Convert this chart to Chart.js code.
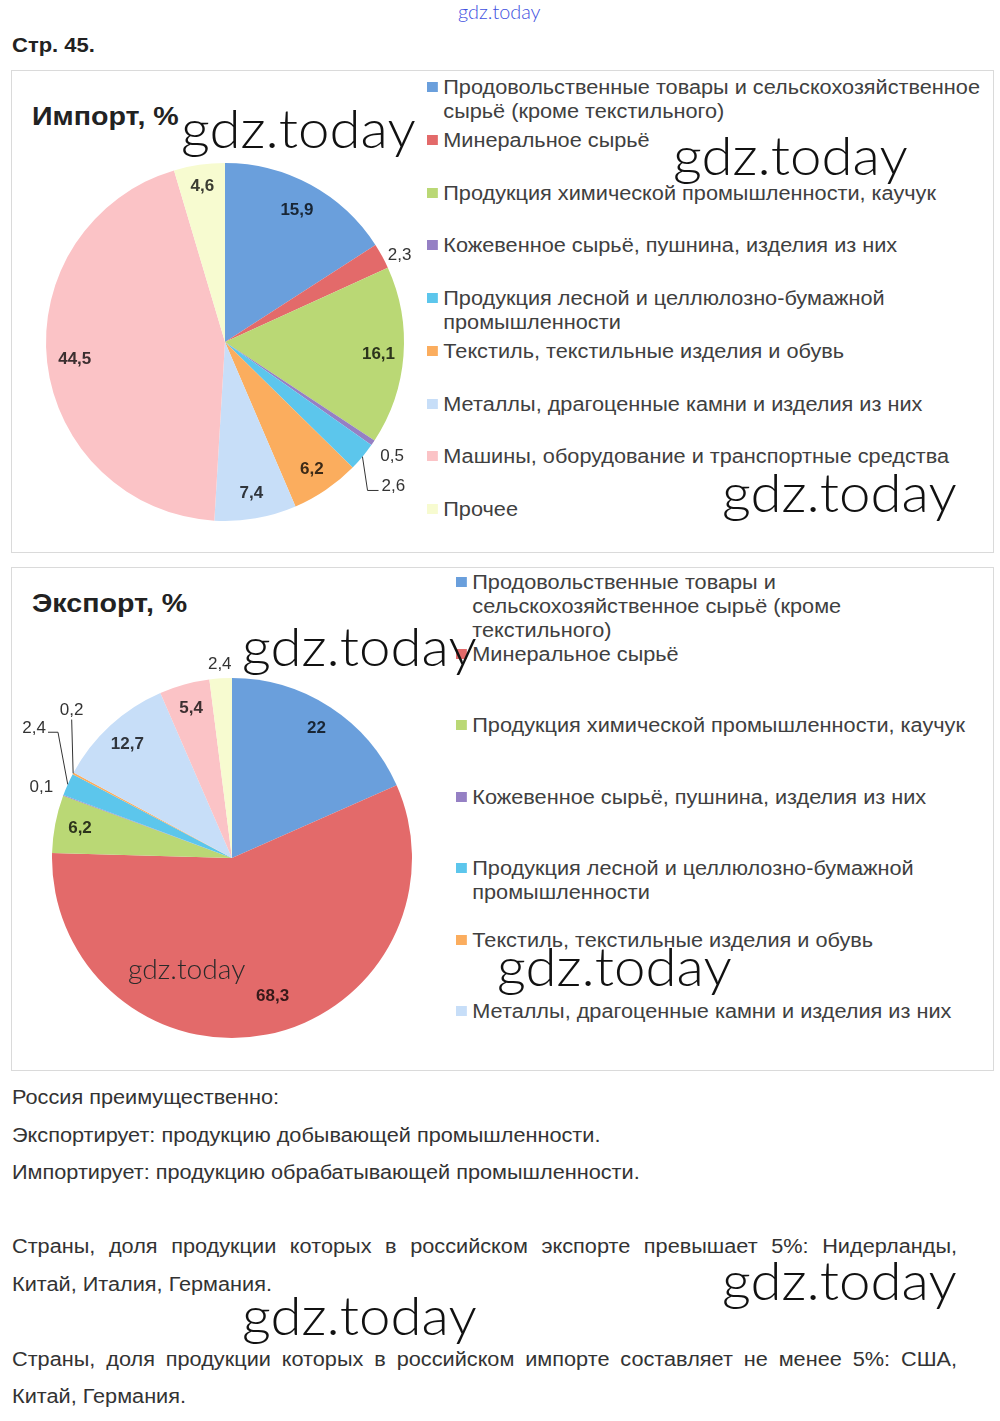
<!DOCTYPE html>
<html lang="ru">
<head>
<meta charset="utf-8">
<title>Импорт и экспорт</title>
<script src="https://cdn.jsdelivr.net/npm/chart.js@4.4.1/dist/chart.umd.min.js"></script>
<style>
  body { margin: 0; background: #fff; font-family: "Liberation Sans", Arial, sans-serif; }
  #page { position: relative; width: 1000px; height: 1421px; overflow: hidden; }
  .abs { position: absolute; }
  .wide { transform-origin: 0 50%; transform: scaleX(1.085); }
  .box { position: absolute; left: 11px; width: 981px; border: 1px solid #dadada; }
  .title { position: absolute; font-weight: bold; font-size: 26px; color: #222; line-height: 30px; transform-origin: 0 50%; transform: scaleX(1.1); }
  canvas { position: absolute; }
  .legend-item { position: absolute; font-size: 20px; line-height: 24px; color: #404040; }
  .legend-item .sw { position: absolute; left: 0; top: 7px; width: 10px; height: 10px; }
  .legend-item .tx { margin-left: 15px; }
  .txt { position: absolute; left: 12px; font-size: 20px; line-height: 24px; color: #333; white-space: nowrap; }
  .just { width: 871px; text-align: justify; text-align-last: justify; white-space: normal; }
  .wm { position: absolute; font-family: Lato, "DejaVu Sans", sans-serif; font-weight: 300; color: #111; line-height: 1; white-space: nowrap; transform-origin: 0 50%; transform: scaleX(1.045); }
</style>
</head>
<body>
<div id="page">
  <div class="wm" style="left:458px;top:2px;font-size:19px;color:#4050e0;">gdz.today</div>
  <div class="abs" style="left:12px;top:34px;font-size:20px;font-weight:bold;color:#222;transform-origin:0 50%;transform:scaleX(1.1);">Стр. 45.</div>

  <div class="box" style="top:70px;height:481px;"></div>
  <div class="title" style="left:32px;top:101px;">Импорт, %</div>
  <canvas id="importChart" width="400" height="385" style="left:20px;top:150px;"></canvas>
  <div id="importLegend"></div>

  <div class="box" style="top:567px;height:502px;"></div>
  <div class="title" style="left:32px;top:588px;">Экспорт, %</div>
  <canvas id="exportChart" width="425" height="400" style="left:15px;top:650px;"></canvas>
  <div id="exportLegend"></div>

  <div class="txt wide" style="top:1085px;">Россия преимущественно:</div>
  <div class="txt wide" style="top:1123px;">Экспортирует: продукцию добывающей промышленности.</div>
  <div class="txt wide" style="top:1160px;">Импортирует: продукцию обрабатывающей промышленности.</div>
  <div class="txt wide just" style="top:1234px;">Страны, доля продукции которых в российском экспорте превышает 5%: Нидерланды,</div>
  <div class="txt wide" style="top:1272px;">Китай, Италия, Германия.</div>
  <div class="txt wide just" style="top:1347px;">Страны, доля продукции которых в российском импорте составляет не менее 5%: США,</div>
  <div class="txt wide" style="top:1384px;">Китай, Германия.</div>

  <div class="wm" style="left:181px;top:101px;font-size:54px;">gdz.today</div>
  <div class="wm" style="left:673px;top:128px;font-size:54px;">gdz.today</div>
  <div class="wm" style="left:722px;top:465px;font-size:54px;">gdz.today</div>
  <div class="wm" style="left:242px;top:619px;font-size:54px;">gdz.today</div>
  <div class="wm" style="left:128px;top:955px;font-size:27px;color:#2a2a2a;">gdz.today</div>
  <div class="wm" style="left:497px;top:939px;font-size:54px;">gdz.today</div>
  <div class="wm" style="left:722px;top:1253px;font-size:54px;">gdz.today</div>
  <div class="wm" style="left:242px;top:1288px;font-size:54px;">gdz.today</div>
</div>

<script>
// Categories (same order for both charts)
const categories = [
  'Продовольственные товары и сельскохозяйственное сырьё (кроме текстильного)',
  'Минеральное сырьё',
  'Продукция химической промышленности, каучук',
  'Кожевенное сырьё, пушнина, изделия из них',
  'Продукция лесной и целлюлозно-бумажной промышленности',
  'Текстиль, текстильные изделия и обувь',
  'Металлы, драгоценные камни и изделия из них',
  'Машины, оборудование и транспортные средства',
  'Прочее'
];

// Values, %
const importValues = [15.9, 2.3, 16.1, 0.5, 2.6, 6.2, 7.4, 44.5, 4.6];
const exportValues = [22, 68.3, 6.2, 0.1, 2.4, 0.2, 12.7, 5.4, 2.4];

const sliceColors = ['#6a9fdc', '#e36a6a', '#bad875', '#9580c4', '#5cc6ec', '#fbad5e', '#c7def8', '#fbc3c6', '#f7fbd0'];

function fmt(v) {
  return String(v).replace('.', ',');
}

function darken(hex, k) {
  const n = parseInt(hex.slice(1), 16);
  const r = Math.round(((n >> 16) & 255) * k);
  const g = Math.round(((n >> 8) & 255) * k);
  const b = Math.round((n & 255) * k);
  return `rgb(${r},${g},${b})`;
}

// Draws the value labels on / next to the slices
const sliceLabels = {
  id: 'sliceLabels',
  afterDatasetsDraw(chart, args, opts) {
    const ctx = chart.ctx;
    const meta = chart.getDatasetMeta(0);
    const values = chart.data.datasets[0].data;
    const colors = chart.data.datasets[0].backgroundColor;
    meta.data.forEach((arc, i) => {
      const p = arc.getProps(['x', 'y', 'startAngle', 'endAngle', 'outerRadius'], true);
      const mid = (p.startAngle + p.endAngle) / 2;
      const spec = opts.special[i] || {};
      const text = fmt(values[i]);
      const ang = spec.angle !== undefined ? (spec.angle - 90) * Math.PI / 180 : mid;
      const d = p.outerRadius * (spec.dist || opts.inside);
      const x = p.x + Math.cos(ang) * d;
      const y = p.y + Math.sin(ang) * d;
      const outside = (spec.dist || 0) > 1;
      ctx.save();
      ctx.textBaseline = 'middle';
      if (!outside) {
        ctx.font = 'bold 17px "Liberation Sans", Arial, sans-serif';
        ctx.fillStyle = darken(colors[i], 0.24);
        ctx.textAlign = 'center';
        ctx.fillText(text, x, y);
      } else {
        ctx.font = '17px "Liberation Sans", Arial, sans-serif';
        ctx.fillStyle = '#333';
        ctx.textAlign = spec.align || 'center';
        ctx.fillText(text, x, y);
        if (spec.leader) {
          const ex = p.x + Math.cos(mid) * p.outerRadius;
          const ey = p.y + Math.sin(mid) * p.outerRadius;
          ctx.strokeStyle = '#333';
          ctx.lineWidth = 1;
          ctx.beginPath();
          if (spec.leader === 'left') {
            ctx.moveTo(ex, ey);
            ctx.lineTo(x - 14, y + 4);
            ctx.lineTo(x - 3, y + 4);
          } else if (spec.leader === 'right') {
            ctx.moveTo(x + 2, y + 4);
            ctx.lineTo(x + 12, y + 4);
            ctx.lineTo(ex, ey);
          } else {
            ctx.moveTo(x, y + 9);
            ctx.lineTo(ex, ey);
          }
          ctx.stroke();
        }
      }
      ctx.restore();
    });
  }
};

function pieConfig(values, padding, inside, special) {
  return {
    type: 'pie',
    data: {
      labels: categories,
      datasets: [{
        data: values,
        backgroundColor: sliceColors,
        borderWidth: 0
      }]
    },
    options: {
      responsive: false,
      animation: false,
      layout: { padding: padding },
      plugins: {
        legend: { display: false },
        tooltip: { enabled: false },
        sliceLabels: { inside: inside, special: special }
      }
    },
    plugins: [sliceLabels]
  };
}

new Chart(document.getElementById('importChart'), pieConfig(
  importValues,
  { left: 26, right: 16, top: 13, bottom: 14 },
  0.86,
  {
    0: { dist: 0.84 },
    1: { dist: 1.09, angle: 63.5 },
    3: { dist: 1.13 },
    4: { dist: 1.19, angle: 132.7, align: 'left', leader: 'left' },
    7: { dist: 0.845 },
    8: { dist: 0.88 }
  }
));

new Chart(document.getElementById('exportChart'), pieConfig(
  exportValues,
  { left: 37, right: 28, top: 28, bottom: 12 },
  0.86,
  {
    1: { dist: 0.8, angle: 163.6 },
    3: { dist: 1.13 },
    4: { dist: 1.26, angle: 304.9, align: 'right', leader: 'right' },
    5: { dist: 1.21, angle: 312.6, leader: 'down' },
    8: { dist: 1.08 }
  }
));

// HTML legends built from the same arrays
function buildLegend(id, left, top, pitch, width, count) {
  const el = document.getElementById(id);
  for (let i = 0; i < count; i++) {
    const item = document.createElement('div');
    item.className = 'legend-item wide';
    item.style.left = left + 'px';
    item.style.top = (top + i * pitch) + 'px';
    item.style.width = width + 'px';
    item.innerHTML = `<span class="sw" style="background:${sliceColors[i]}"></span><div class="tx">${categories[i]}</div>`;
    el.appendChild(item);
  }
}

buildLegend('importLegend', 427, 75, 52.75, 515, 9);
buildLegend('exportLegend', 456, 570, 71.5, 478, 7);
</script>
</body>
</html>
